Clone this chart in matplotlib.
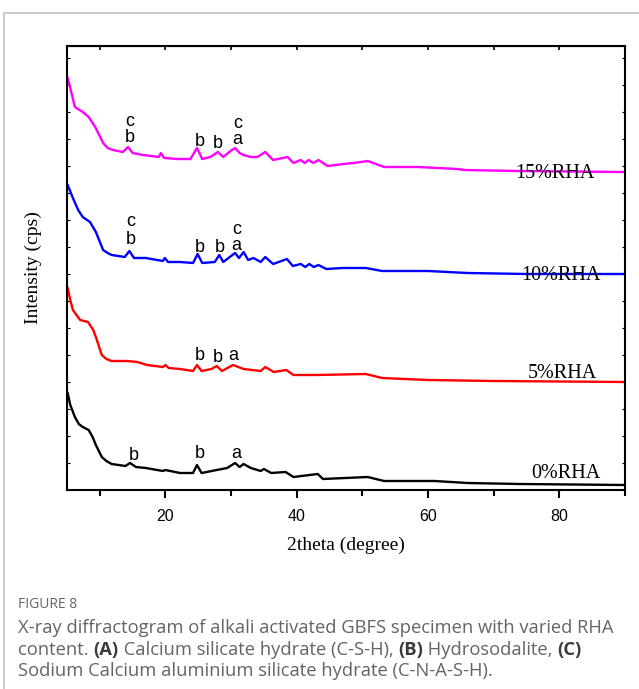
import matplotlib
matplotlib.use('Agg')
import matplotlib.pyplot as plt
from matplotlib.ticker import MultipleLocator
from matplotlib.lines import Line2D

# XRD patterns (2theta in degrees, intensity in cps, unstacked)
tt_0 = [5.1, 5.5, 6.2, 6.8, 7.4, 8.3, 8.9, 9.4, 10.3, 11.0, 11.8, 13.9, 14.6, 15.5, 17.0, 19.6, 20.0, 22.2, 24.2, 24.8, 25.5,
        27.8, 29.4, 30.6, 31.3, 31.9, 33.0, 34.5, 35.0, 36.1, 38.3, 39.5, 43.2, 44.0, 50.8, 53.3, 61.0, 66.0, 74.0, 90.0]
int_0 = [970, 850, 730, 660, 630, 600, 530, 450, 330, 290, 260, 240, 270, 230, 220, 190, 200, 170, 170, 250, 170,
         200, 220, 270, 230, 260, 220, 190, 210, 170, 180, 130, 160, 110, 130, 90, 90, 70, 60, 50]

tt_5 = [5.1, 5.5, 5.9, 7.0, 8.2, 9.0, 9.4, 10.3, 11.0, 11.8, 14.2, 15.7, 17.2, 19.6, 20.0, 20.5, 22.2, 24.2, 24.8, 25.5,
        27.0, 27.8, 28.6, 30.3, 31.9, 34.5, 35.2, 36.5, 38.4, 39.5, 43.0, 50.5, 53.0, 60.0, 70.0, 90.0]
int_5 = [1020, 900, 800, 700, 680, 600, 530, 350, 310, 290, 290, 280, 250, 230, 250, 220, 210, 190, 250, 190,
         210, 240, 190, 250, 210, 190, 230, 180, 200, 150, 150, 160, 120, 100, 90, 80]

tt_10 = [5.1, 5.9, 6.7, 7.4, 8.5, 9.4, 10.5, 11.2, 11.8, 13.8, 14.5, 15.2, 17.0, 19.6, 19.9, 20.4, 22.2, 24.2, 24.9, 25.6,
         27.5, 28.2, 28.8, 30.6, 31.2, 31.9, 32.6, 33.4, 34.5, 35.2, 36.4, 38.5, 39.4, 40.6, 41.3, 41.9, 42.6,
         43.3, 44.5, 47.0, 50.5, 53.0, 60.0, 66.0, 75.0, 90.0]
int_10 = [1050, 920, 800, 730, 680, 580, 400, 370, 350, 330, 390, 320, 320, 290, 320, 280, 280, 270, 360, 270,
          280, 350, 280, 370, 320, 380, 300, 320, 280, 330, 260, 310, 240, 260, 230, 260, 230,
          250, 210, 220, 220, 190, 190, 170, 160, 160]

tt_15 = [5.1, 5.5, 6.2, 7.4, 8.3, 9.3, 10.5, 11.2, 12.0, 13.5, 14.3, 15.0, 16.6, 19.0, 19.3, 19.8, 21.8, 23.8, 24.8,
         25.6, 26.8, 28.0, 28.8, 29.9, 30.6, 31.3, 31.9, 33.0, 34.0, 35.2, 36.4, 38.6, 39.5, 40.6, 41.2, 41.8,
         42.5, 43.3, 44.7, 47.1, 48.7, 50.8, 53.3, 58.4, 64.5, 65.5, 73.7, 90.0]
int_15 = [1120, 1020, 830, 780, 730, 630, 470, 420, 400, 380, 430, 370, 350, 330, 370, 320, 310, 310, 420,
          310, 330, 380, 330, 390, 420, 370, 350, 330, 330, 380, 300, 330, 270, 300, 270, 300,
          270, 300, 240, 260, 270, 290, 230, 230, 210, 200, 190, 180]

samples = ['0%RHA', '5%RHA', '10%RHA', '15%RHA']
colors = ['black', '#ff0000', '#0000ff', '#ff00ff']
offsets = [0, 1000, 2000, 3000]
patterns = [(tt_0, int_0), (tt_5, int_5), (tt_10, int_10), (tt_15, int_15)]

# phase marks: (2theta, intensity above own baseline, letter)
peaks_0 = [(15.1, 350, 'b'), (25.2, 360, 'b'), (30.8, 370, 'a')]
peaks_5 = [(25.2, 350, 'b'), (27.9, 320, 'b'), (30.3, 350, 'a')]
peaks_10 = [(14.7, 690, 'c'), (14.7, 500, 'b'), (25.2, 430, 'b'), (28.2, 430, 'b'), (30.8, 610, 'c'), (30.8, 450, 'a')]
peaks_15 = [(14.5, 690, 'c'), (14.5, 520, 'b'), (25.2, 490, 'b'), (27.9, 460, 'b'), (31.0, 670, 'c'), (31.0, 500, 'a')]
peak_marks = [peaks_0, peaks_5, peaks_10, peaks_15]

# sample label positions (right edge 2theta, height above own baseline)
label_x = [86.3, 85.8, 86.3, 85.3]
label_y = [170, 170, 150, 160]

fig = plt.figure(figsize=(6.39, 6.89), dpi=100)
ax = fig.add_axes([67/639, 1 - 490/689, 558/639, 444/689])

for (tt, inten), off, col in zip(patterns, offsets, colors):
    ax.plot(tt, [v + off for v in inten], color=col, lw=1.7, solid_joinstyle='round')

for marks, off in zip(peak_marks, offsets):
    for x, y, s in marks:
        ax.text(x, y + off, s, ha='center', va='center', fontsize=13, family='Liberation Sans')

for name, lx, ly, off in zip(samples, label_x, label_y, offsets):
    ax.text(lx, ly + off, name, ha='right', va='center', fontsize=14.5, family='Liberation Serif')

ax.set_xlim(5, 90)
ax.set_ylim(0, 4440)
ax.xaxis.set_major_locator(MultipleLocator(20))
ax.xaxis.set_minor_locator(MultipleLocator(10))
ax.yaxis.set_major_locator(MultipleLocator(270))
ax.tick_params(axis='x', which='major', direction='out', length=6, width=1.5, labelsize=11.5, pad=8)
ax.tick_params(axis='x', which='minor', direction='out', length=4, width=1.5)
ax.tick_params(axis='y', which='both', direction='in', length=2.5, width=0.8, left=True, right=True, labelleft=False)
for lab in ax.get_xticklabels():
    lab.set_family('Liberation Sans')
for sp in ax.spines.values():
    sp.set_linewidth(1.5)

top = ax.secondary_xaxis('top')
top.xaxis.set_major_locator(MultipleLocator(10))
top.tick_params(direction='in', length=3, width=1.2, labeltop=False)

ax.set_xlabel('2theta (degree)', fontsize=14, family='Liberation Serif', labelpad=9)
ax.set_ylabel('Intensity (cps)', fontsize=14, family='Liberation Serif', labelpad=18)

# card border
fig.add_artist(Line2D([4/639, 1], [1 - 13/689, 1 - 13/689], color='#cccccc', lw=1.5))
fig.add_artist(Line2D([4/639, 4/639], [0, 1 - 13/689], color='#cccccc', lw=1.5))

# caption
grey = '#646464'
fig.text(18/639, 1 - 604/689, 'FIGURE 8', fontsize=10, color=grey, family='Open Sans', va='center')
cap_lines = [
    [('X-ray diffractogram of alkali activated GBFS specimen with varied RHA', False)],
    [('content. ', False), ('(A)', True), (' Calcium silicate hydrate (C-S-H), ', False), ('(B)', True),
     (' Hydrosodalite, ', False), ('(C)', True)],
    [('Sodium Calcium aluminium silicate hydrate (C-N-A-S-H).', False)],
]
cap_y = [628, 650, 671]
renderer = fig.canvas.get_renderer()
for segs, py in zip(cap_lines, cap_y):
    x = 18
    for s, bold in segs:
        t = fig.text(x/639, 1 - py/689, s, fontsize=13.2, color='#3a3a3a' if bold else grey,
                     family='Open Sans', fontweight='bold' if bold else 'normal', va='center')
        bb = t.get_window_extent(renderer=renderer)
        x += bb.width

fig.savefig('out.png', dpi=100)
